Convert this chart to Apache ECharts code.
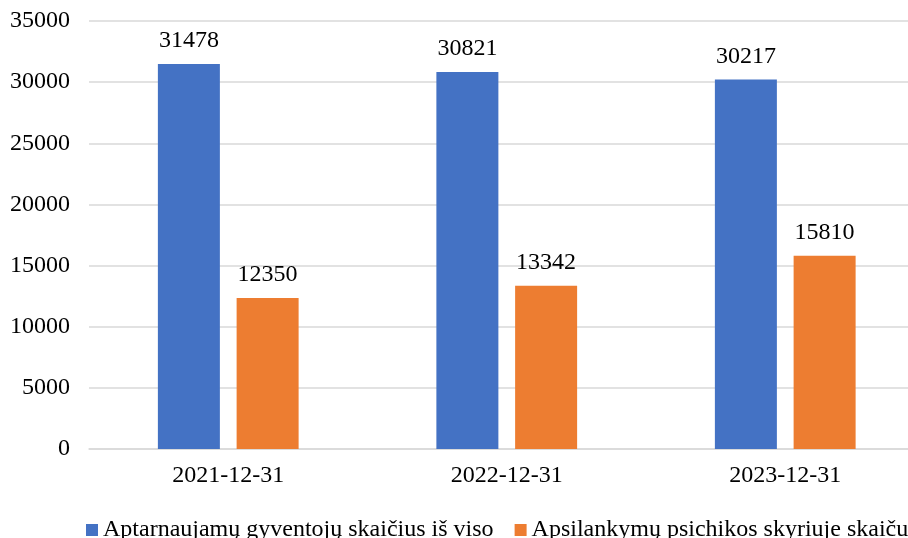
<!DOCTYPE html>
<html><head><meta charset="utf-8">
<script src="https://cdn.jsdelivr.net/npm/echarts@6/dist/echarts.min.js"></script>
<style>html,body{margin:0;padding:0;background:#fff;overflow:hidden;width:908px;height:538px}#c{width:980px;height:538px}</style>
</head><body><div id="c"></div>
<script>
const categories = ['2021-12-31', '2022-12-31', '2023-12-31'];
const seriesNames = ['Aptarnaujamų gyventojų skaičius iš viso', 'Apsilankymų psichikos skyriuje skaičus'];
const residents = [31478, 30821, 30217];
const visits = [12350, 13342, 15810];
const yTicks = { min: 0, max: 35000, interval: 5000 };

const font = 'Liberation Serif, Times New Roman, serif';
const chart = echarts.init(document.getElementById('c'));
chart.setOption({
  animation: false,
  textStyle: { fontFamily: font },
  grid: { left: 89, right: 55.5, top: 21, bottom: 89, containLabel: false },
  legend: {
    left: 81, top: 513, itemWidth: 12, itemHeight: 12, itemGap: 21,
    icon: 'rect',
    textStyle: { fontFamily: font, fontSize: 24, color: '#000' },
    data: seriesNames
  },
  xAxis: {
    type: 'category', data: categories,
    axisLine: { lineStyle: { color: '#D9D9D9', width: 1.5 } },
    axisTick: { show: false },
    axisLabel: { fontFamily: font, fontSize: 24, color: '#000', margin: 15 }
  },
  yAxis: {
    type: 'value', min: yTicks.min, max: yTicks.max, interval: yTicks.interval,
    axisLine: { show: false }, axisTick: { show: false },
    splitLine: { lineStyle: { color: '#D9D9D9', width: 1.5 } },
    axisLabel: { fontFamily: font, fontSize: 24, color: '#000', margin: 19, formatter: v => String(v) }
  },
  series: [
    { name: seriesNames[0], type: 'bar', data: residents, barWidth: 62, barGap: '27%',
      itemStyle: { color: '#4472C4' },
      label: { show: true, position: 'top', distance: 11, fontFamily: font, fontSize: 24, color: '#000' } },
    { name: seriesNames[1], type: 'bar', data: visits, barWidth: 62,
      itemStyle: { color: '#ED7D31' },
      label: { show: true, position: 'top', distance: 11, fontFamily: font, fontSize: 24, color: '#000' } }
  ]
});
</script></body></html>
